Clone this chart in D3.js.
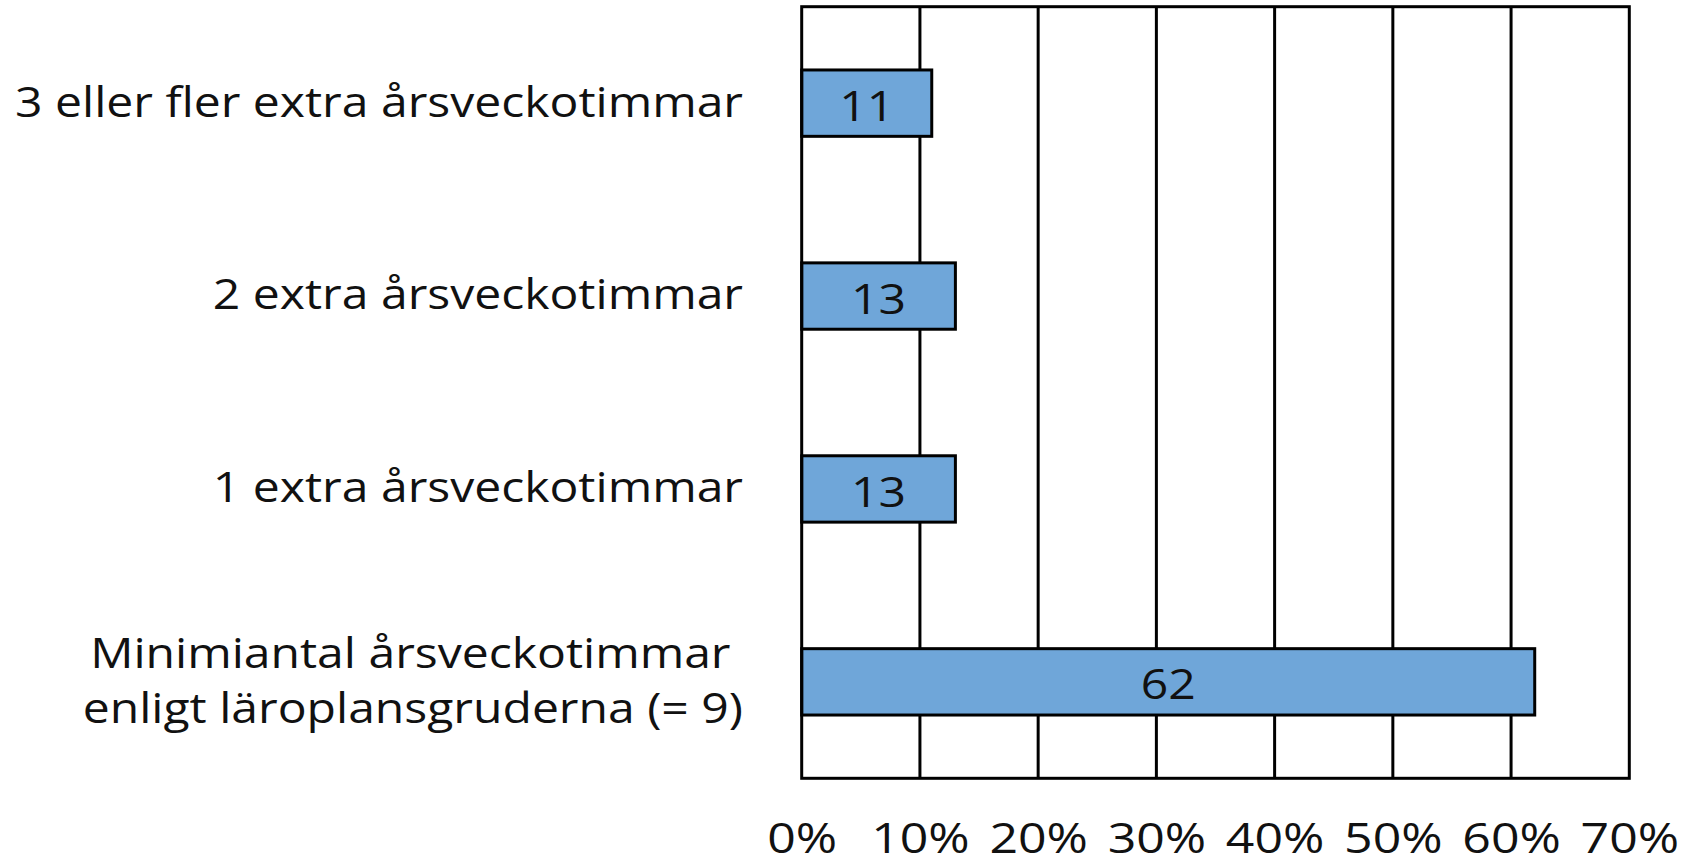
<!DOCTYPE html>
<html>
<head>
<meta charset="utf-8">
<script src="https://cdn.jsdelivr.net/npm/d3@7"></script>
<style>
  body { margin: 0; background: #fff; }
  text { font-family: "Open Sans", sans-serif; fill: #111; }
</style>
</head>
<body>
<svg></svg>
<script>
const width = 1687
const height = 859
const marge = {top: 6.7, right: 57.7, bottom: 80.7, left: 801.7}

// data
const categories = [
  ["3 eller fler extra årsveckotimmar"],
  ["2 extra årsveckotimmar"],
  ["1 extra årsveckotimmar"],
  ["Minimiantal årsveckotimmar ", "enligt läroplansgruderna (= 9)"]
]
const values = [11, 13, 13, 62]
const xTicks = [0, 10, 20, 30, 40, 50, 60, 70]

// the source font is wider than Open Sans, stretch text horizontally
const sx = 1.145
const fontSize = '42px'

const innerW = width - marge.left - marge.right
const innerH = height - marge.top - marge.bottom

const svg = d3.select('svg').attr('width', width).attr('height', height)
const g = svg.append('g').attr('transform', 'translate(' + marge.left + ',' + marge.top + ')')

const x = d3.scaleLinear().domain([0, 70]).range([0, innerW])
const y = d3.scaleBand().domain(d3.range(categories.length)).range([0, innerH])
  .paddingInner(0.656).paddingOuter(0.328)

// gridlines
g.append('g').selectAll('line').data(xTicks.slice(1, -1)).enter().append('line')
  .attr('x1', d => x(d)).attr('x2', d => x(d))
  .attr('y1', 0).attr('y2', innerH)
  .attr('stroke', '#000').attr('stroke-width', 3)

// bars
g.append('g').selectAll('rect').data(values).enter().append('rect')
  .attr('x', 0)
  .attr('y', (d, i) => y(i))
  .attr('width', d => x(d))
  .attr('height', y.bandwidth())
  .attr('fill', '#6fa6d9')
  .attr('stroke', '#000')
  .attr('stroke-width', 3)

// value labels
g.append('g').selectAll('text').data(values).enter().append('text')
  .attr('transform', (d, i) => 'translate(' + (x(d) / 2) + ',' + (y(i) + y.bandwidth() / 2) + ') scale(' + sx + ',1)')
  .attr('dy', '0.42em')
  .attr('text-anchor', 'middle')
  .style('font-size', fontSize)
  .text(d => d)

// plot border
g.append('rect')
  .attr('width', innerW).attr('height', innerH)
  .attr('fill', 'none').attr('stroke', '#000').attr('stroke-width', 3)

// x axis
const xAxis = g.append('g')
  .attr('transform', 'translate(0,' + innerH + ')')
  .call(d3.axisBottom(x).tickValues(xTicks).tickSize(0).tickPadding(45).tickFormat(d => d + '%'))
xAxis.select('.domain').remove()
xAxis.selectAll('text').style('font-size', fontSize).attr('fill', '#111')
  .attr('transform', 'scale(' + (sx * 1.04) + ',1)')

// y axis with multi-line labels
const pad = 58.7
const yAxis = g.append('g')
  .call(d3.axisLeft(y).tickSize(0).tickPadding(pad).tickFormat(''))
yAxis.select('.domain').remove()
yAxis.selectAll('.tick text').each(function (d) {
  const lines = categories[d]
  const t = d3.select(this).style('font-size', fontSize).attr('fill', '#111')
    .attr('dy', null).attr('x', null)
    .attr('transform', 'translate(' + (-pad) + ',0) scale(' + sx + ',1)')
  lines.forEach((line, k) => {
    t.append('tspan')
      .attr('x', 0)
      .attr('y', (k - (lines.length - 1) / 2) * 55)
      .attr('dy', '0.32em')
      .text(line)
  })
})
</script>
</body>
</html>
